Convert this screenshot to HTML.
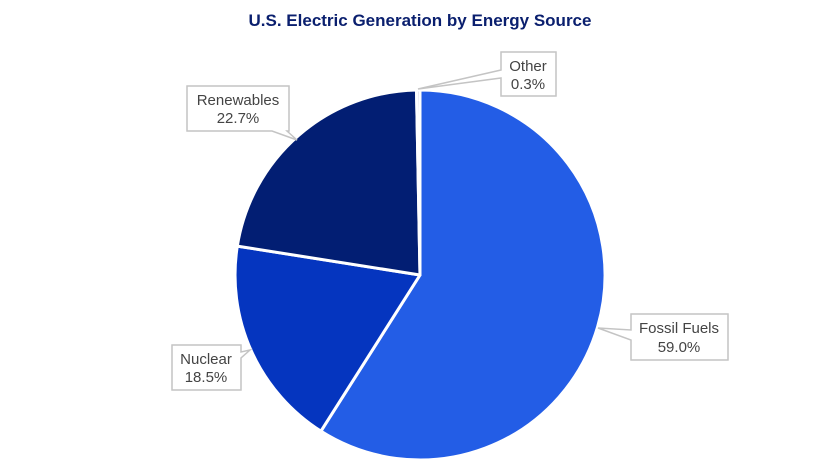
<!DOCTYPE html>
<html><head><style>body{margin:0;background:#fff}svg{display:block}text{font-family:"Liberation Sans",sans-serif}</style></head>
<body>
<svg width="840" height="472" viewBox="0 0 840 472">
<text x="420" y="26" text-anchor="middle" font-size="17" font-weight="bold" fill="#0a1f6e">U.S. Electric Generation by Energy Source</text>
<g stroke="#fff" stroke-width="3" stroke-linejoin="round">
<path d="M420,275 L420,90 A185,185 0 1 1 320.9,431.2 Z" fill="#235de6"/>
<path d="M420,275 L320.9,431.2 A185,185 0 0 1 237.3,246.1 Z" fill="#0535bf"/>
<path d="M420,275 L237.3,246.1 A185,185 0 0 1 416.5,90 Z" fill="#021e73"/>
<path d="M420,275 L416.5,90 A185,185 0 0 1 420,90 Z" fill="#ccd"/>
</g>
<g fill="#fff" stroke="#c4c4c4" stroke-width="1.5" font-size="15">
<path d="M501,52 H556 V96 H501 V78 L418,89 L501,70 Z"/>
<path d="M187,86 H289 V131 H287 L297,140 L272,131 H187 Z"/>
<path d="M631,314 H728 V360 H631 V340 L598,328 L631,330 Z"/>
<path d="M172,345 H241 V352 L250,350 L241,358 V390 H172 Z"/>
</g>
<g fill="#444" font-size="15" text-anchor="middle">
<text x="528" y="71">Other</text><text x="528" y="89">0.3%</text>
<text x="238" y="105">Renewables</text><text x="238" y="123">22.7%</text>
<text x="679" y="333">Fossil Fuels</text><text x="679" y="352">59.0%</text>
<text x="206" y="364">Nuclear</text><text x="206" y="382">18.5%</text>
</g>
</svg>
</body></html>
